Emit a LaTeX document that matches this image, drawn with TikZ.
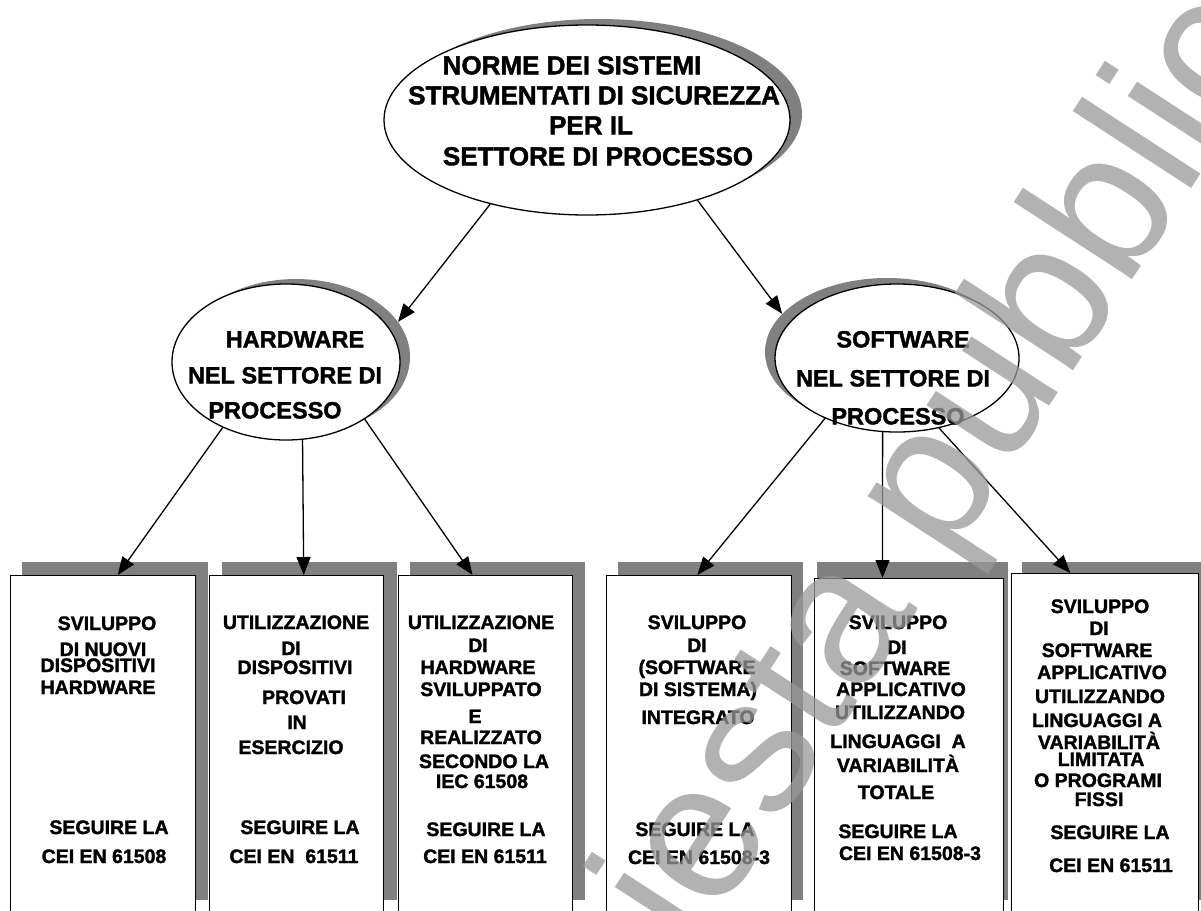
\documentclass[tikz,border=0pt]{standalone}
\usepackage{fontspec}
\setmainfont{Liberation Sans}[BoldFont={Liberation Sans Bold},BoldFeatures={FakeBold=1.6}]
\usetikzlibrary{arrows.meta,shapes.geometric,calc}

\begin{document}
\begin{tikzpicture}[x=1pt,y=-1pt,
  oval/.style={ellipse,draw=black,fill=white,inner sep=0pt,line width=1.3pt},
  ovalshade/.style={ellipse,fill=black!50,draw=none,inner sep=0pt},
  card/.style={draw=black,fill=white,line width=1.4pt,inner sep=0pt,anchor=north west},
  link/.style={-{Triangle[length=18pt,width=14pt]},line width=1.3pt},
  toptxt/.style={font=\bfseries\fontsize{26}{26}\selectfont,anchor=base,yshift=-9.3pt,inner sep=0pt},
  midtxt/.style={font=\bfseries\fontsize{23.5}{23.5}\selectfont,anchor=base,yshift=-8.4pt,inner sep=0pt},
  boxtxt/.style={font=\bfseries\fontsize{19.5}{19.5}\selectfont,anchor=base,yshift=-7pt,inner sep=0pt},
  wm/.style={font=\mdseries\fontsize{195}{195}\selectfont,text=black!40,text opacity=0.75,inner sep=0pt}
]
\useasboundingbox (0,0) rectangle (1201,910);
\clip (0,0) rectangle (1201,910);
\fill[white] (0,0) rectangle (1201,910);

% ---- ellipses with their offset shadows ----
\node[ovalshade,minimum width=406pt,minimum height=190pt] (tops) at (599,114) {};
\node[oval,minimum width=406pt,minimum height=190pt] (top) at (587,120) {};
\node[ovalshade,minimum width=228pt,minimum height=156pt] (hws) at (296,357) {};
\node[oval,minimum width=228pt,minimum height=156pt] (hw) at (286,362) {};
\node[ovalshade,minimum width=244pt,minimum height=148pt] (sws) at (887,352) {};
\node[oval,minimum width=244pt,minimum height=148pt] (sw) at (897,358) {};

\node[toptxt] (t1) at (572,65) {NORME DEI SISTEMI};
\node[toptxt] (t2) at (594,95) {STRUMENTATI DI SICUREZZA};
\node[toptxt] (t3) at (591,125) {PER IL};
\node[toptxt] (t4) at (598,156) {SETTORE DI PROCESSO};

\node[midtxt] (h1) at (295,339) {HARDWARE};
\node[midtxt] (h2) at (285,375) {NEL SETTORE DI};
\node[midtxt] (h3) at (275,410) {PROCESSO};

\node[midtxt] (s1) at (903,339) {SOFTWARE};
\node[midtxt] (s2) at (893,378) {NEL SETTORE DI};
\node[midtxt] (s3) at (898,416) {PROCESSO};

% ---- box shadows ----
\fill[black!50] (22,562) rectangle (208,900);
\fill[black!50] (222,562) rectangle (397,900);
\fill[black!50] (410,562) rectangle (585,900);
\fill[black!50] (618,562) rectangle (803,900);
\fill[black!50] (817,562) rectangle (1008,900);
\fill[black!50] (1022,562) rectangle (1215,900);

% ---- boxes ----
\node[card,minimum width=185pt,minimum height=345pt] (b1) at (10,575) {};
\node[card,minimum width=174pt,minimum height=345pt] (b2) at (209,575) {};
\node[card,minimum width=174pt,minimum height=345pt] (b3) at (398,575) {};
\node[card,minimum width=185pt,minimum height=345pt] (b4) at (606,575) {};
\node[card,minimum width=189pt,minimum height=345pt] (b5) at (814,578) {};
\node[card,minimum width=187pt,minimum height=345pt] (b6) at (1011,573) {};

% ---- box texts ----
\foreach \px/\py/\txt [count=\k] in {107/623/SVILUPPO, 103/649/{DI NUOVI}, 98/665/DISPOSITIVI,
  98/687/HARDWARE, 109/827/{SEGUIRE LA}, 104/856/{CEI EN 61508}}
  \node[boxtxt] (b1l\k) at (\px,\py) {\txt};
\foreach \px/\py/\txt [count=\k] in {296/622/UTILIZZAZIONE, 291/648/DI, 295/667/DISPOSITIVI,
  304/697/PROVATI, 297/722/IN, 291/747/ESERCIZIO, 300/827/{SEGUIRE LA}, 294/856/{CEI EN\ \ 61511}}
  \node[boxtxt] (b2l\k) at (\px,\py) {\txt};
\foreach \px/\py/\txt [count=\k] in {481/622/UTILIZZAZIONE, 478/645/DI, 478/667/HARDWARE,
  481/689/SVILUPPATO, 475/716/E, 481/737/REALIZZATO, 484/761/{SECONDO LA}, 482/781/{IEC 61508},
  486/829/{SEGUIRE LA}, 485/856/{CEI EN 61511}}
  \node[boxtxt] (b3l\k) at (\px,\py) {\txt};
\foreach \px/\py/\txt [count=\k] in {697/622/SVILUPPO, 697/645/DI, 697/667/{(SOFTWARE},
  698/689/{DI SISTEMA)}, 698/717/INTEGRATO, 695/829/{SEGUIRE LA}, 699/857/{CEI EN 61508-3}}
  \node[boxtxt] (b4l\k) at (\px,\py) {\txt};
\foreach \px/\py/\txt [count=\k] in {898/622/SVILUPPO, 897/647/DI, 895/668/SOFTWARE,
  901/689/APPLICATIVO, 900/712/UTILIZZANDO, 898/741/{LINGUAGGI\ \ A}, 898/765/{VARIABILITÀ},
  896/792/TOTALE, 898/831/{SEGUIRE LA}, 910/853/{CEI EN 61508-3}}
  \node[boxtxt] (b5l\k) at (\px,\py) {\txt};
\foreach \px/\py/\txt [count=\k] in {1100/606/SVILUPPO, 1099/628/DI, 1097/650/SOFTWARE,
  1102/672/APPLICATIVO, 1100/696/UTILIZZANDO, 1097/720/{LINGUAGGI A}, 1099/742/{VARIABILITÀ},
  1101/759/LIMITATA, 1098/780/{O PROGRAMI}, 1099/799/FISSI, 1110/832/{SEGUIRE LA},
  1111/865/{CEI EN 61511}}
  \node[boxtxt] (b6l\k) at (\px,\py) {\txt};

% ---- connectors ----
\draw[link] (top.221) -- (hws.19);
\draw[link] (top.324) -- (sws.160);
\draw[link] (hw.226) -- ($(b1.north west)!0.578!(b1.north east)$);
\draw[link] (hw.282) -- ($(b2.north west)!0.54!(b2.north east)$);
\draw[link] (hw.324) -- ($(b3.north west)!0.425!(b3.north east)$);
\draw[link] (sw.220) -- ($(b4.north west)!0.49!(b4.north east)$);
\draw[link] (sw.259) -- ($(b5.north west)!0.36!(b5.north east)$);
\draw[link] (sw.301) -- ($(b6.north west)!0.315!(b6.north east)$);

% ---- watermark ----
\node[wm,rotate=57,anchor=base west] (wmark) at (523,1218) {richiesta pubblica};
\end{tikzpicture}
\end{document}
